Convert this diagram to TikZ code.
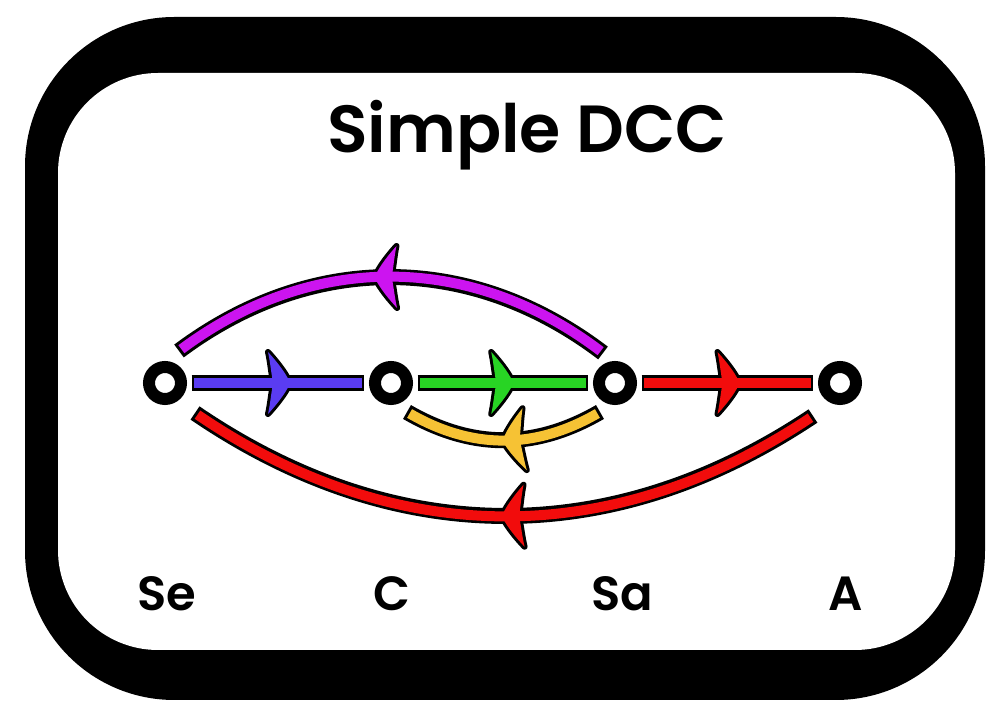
\documentclass[tikz,border=0pt]{standalone}
\usepackage{fontspec}
\setmainfont{Poppins}[BoldFont={Poppins SemiBold}]
\usetikzlibrary{decorations.markings,calc}

\definecolor{cblue}{RGB}{90,60,242}
\definecolor{cgreen}{RGB}{40,212,36}
\definecolor{cred}{RGB}{242,12,12}
\definecolor{cpurple}{RGB}{204,20,240}
\definecolor{cyellow}{RGB}{246,194,52}

\def\headshape{(12,0) .. controls (10,6) and (2,18) .. (-10,31) .. controls (-8,22) and (-7,12) .. (-5,0) .. controls (-7,-12) and (-8,-22) .. (-10,-31) .. controls (2,-18) and (10,-6) .. (12,0) -- cycle}

\tikzset{
  x=0.75pt, y=0.75pt,
  headpos/.store in=\hpos, headpos=0.5,
  ring/.style={circle, draw=black, line width=9pt, minimum size=24pt, inner sep=0pt, fill=white},
  lbl/.style={font=\bfseries\fontsize{36}{40}\selectfont, anchor=base, inner sep=0pt},
  outline/.style={draw=black, line width=12pt, line cap=butt,
    postaction={decorate, decoration={markings, mark=at position \hpos with {
      \fill[black, shorten <=0pt, shorten >=0pt] \headshape;
      \draw[black, line width=4.5pt, line join=round, shorten <=0pt, shorten >=0pt] \headshape;}}}},
  core/.style={draw=#1, line width=7.5pt, line cap=butt, shorten <=2.25pt, shorten >=2.25pt,
    postaction={decorate, decoration={markings, mark=at position \hpos with {
      \fill[#1, shorten <=0pt, shorten >=0pt] \headshape;}}}},
  straight/.style={shorten <=3.4pt, shorten >=3.4pt},
  straightcore/.style={shorten <=5.6pt, shorten >=5.6pt},
}

\begin{document}
\begin{tikzpicture}
\useasboundingbox (0,0) rectangle (1008,718);
\fill[white] (0,0) rectangle (1008,718);

% frame
\fill[black, rounded corners=112pt] (25,18) rectangle (985,701);
\fill[white, rounded corners=75pt] (58,68) rectangle (955,645);

% title
\node[font=\bfseries\fontsize{50}{60}\selectfont, anchor=base, inner sep=0pt] (title) at (527,565) {Simple DCC};

% nodes
\node[ring] (Se) at (165,335) {};
\node[ring] (C)  at (391,335) {};
\node[ring] (Sa) at (615,335) {};
\node[ring] (A)  at (840,335) {};

% arc end points
\coordinate (puR) at ($(Sa)+(-12,30)$);
\coordinate (puL) at ($(Se)+(14,32)$);
\coordinate (rdR) at ($(A)+(-27,-33)$);
\coordinate (rdL) at ($(Se)+(30,-30)$);
\coordinate (yeR) at ($(Sa)+(-15,-29)$);
\coordinate (yeL) at ($(C)+(16,-29)$);

% straight connectors
\draw[outline, straight, headpos=0.5] (Se) -- (C);
\draw[core=cblue, straightcore, headpos=0.5] (Se) -- (C);
\draw[outline, straight, headpos=0.49] (C) -- (Sa);
\draw[core=cgreen, straightcore, headpos=0.49] (C) -- (Sa);
\draw[outline, straight, headpos=0.5] (Sa) -- (A);
\draw[core=cred, straightcore, headpos=0.5] (Sa) -- (A);

% purple arc
\draw[outline, headpos=0.51] (puR) to[bend right=37] (puL);
\draw[core=cpurple, headpos=0.51] (puR) to[bend right=37] (puL);

% yellow arc
\draw[outline, headpos=0.445] (yeR) to[bend left=30] (yeL);
\draw[core=cyellow, headpos=0.445] (yeR) to[bend left=30] (yeL);

% red bottom arc
\draw[outline, headpos=0.484] (rdR) to[bend left=34] (rdL);
\draw[core=cred, headpos=0.484] (rdR) to[bend left=34] (rdL);

% labels
\node[lbl] (lSe) at (167,107) {Se};
\node[lbl] (lC)  at (392,107) {C};
\node[lbl] (lSa) at (622,107) {Sa};
\node[lbl] (lA)  at (846,107) {A};
\end{tikzpicture}
\end{document}
